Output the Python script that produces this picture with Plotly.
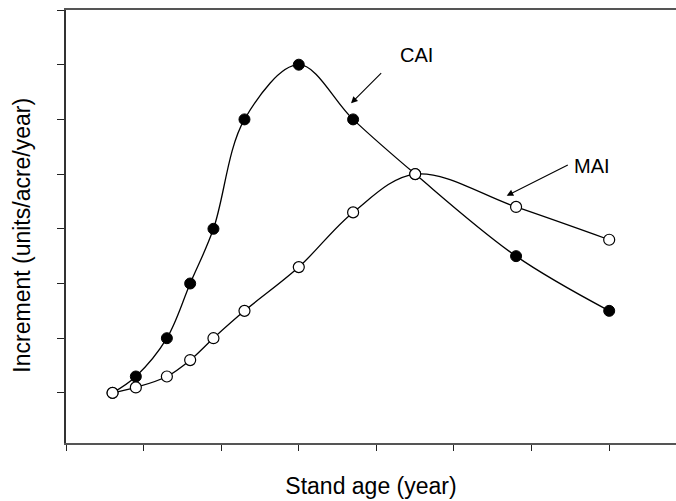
import plotly.graph_objects as go

# Data (stand age in tick units, increment in tick units)
age = [0.6, 0.9, 1.3, 1.6, 1.9, 2.3, 3.0, 3.7, 4.5, 5.8, 7.0]
cai = [1.0, 1.3, 2.0, 3.0, 4.0, 6.0, 7.0, 6.0, 5.0, 3.5, 2.5]
mai = [1.0, 1.1, 1.3, 1.6, 2.0, 2.5, 3.3, 4.3, 5.0, 4.4, 3.8]

x_ticks = [0, 1, 2, 3, 4, 5, 6, 7]
y_ticks = [1, 2, 3, 4, 5, 6, 7, 8]

FONT = "Arial, Liberation Sans, sans-serif"

fig = go.Figure()
fig.add_trace(go.Scatter(
    x=age, y=cai, mode="lines+markers", name="CAI",
    line=dict(color="black", width=1.3, shape="spline", smoothing=1.0),
    marker=dict(symbol="circle", size=11, color="black",
                line=dict(color="black", width=1)),
))
fig.add_trace(go.Scatter(
    x=age, y=mai, mode="lines+markers", name="MAI",
    line=dict(color="black", width=1.3, shape="spline", smoothing=1.0),
    marker=dict(symbol="circle", size=11, color="white",
                line=dict(color="black", width=1.2)),
))

# label annotations
fig.add_annotation(x=4.515, y=7.18, xref="x", yref="y", text="CAI",
                   showarrow=False, font=dict(size=20, color="black", family=FONT))
fig.add_annotation(x=6.778, y=5.148, xref="x", yref="y", text="MAI",
                   showarrow=False, font=dict(size=20, color="black", family=FONT))
# arrows
fig.add_annotation(x=3.673, y=6.294, ax=4.081, ay=6.872, xref="x", yref="y",
                   axref="x", ayref="y", text="", showarrow=True,
                   arrowhead=2, arrowsize=1.2, arrowwidth=1.1, arrowcolor="black")
fig.add_annotation(x=5.679, y=4.605, ax=6.486, ay=5.179, xref="x", yref="y",
                   axref="x", ayref="y", text="", showarrow=True,
                   arrowhead=2, arrowsize=1.2, arrowwidth=1.1, arrowcolor="black")

# y-axis title placed as annotation for exact position
fig.add_annotation(x=0, y=0.48, xref="paper", yref="paper", xshift=-43.5,
                   text="Increment (units/acre/year)", textangle=-90,
                   showarrow=False, xanchor="center", yanchor="middle",
                   font=dict(size=23, color="black", family=FONT))

fig.update_layout(
    width=676, height=501,
    margin=dict(l=66, r=0, t=10, b=58),
    paper_bgcolor="white", plot_bgcolor="white",
    showlegend=False,
    font=dict(family=FONT, color="black"),
    xaxis=dict(
        range=[0, 7.861], tickvals=x_ticks, showticklabels=False,
        ticks="outside", ticklen=6, tickwidth=1.2, tickcolor="#222",
        showline=True, linecolor="#555", linewidth=1.5, mirror=True,
        showgrid=False, zeroline=False,
        title=dict(text="Stand age (year)", font=dict(size=23, family=FONT), standoff=28),
    ),
    yaxis=dict(
        range=[0.084, 8.0], tickvals=y_ticks, showticklabels=False,
        ticks="outside", ticklen=7, tickwidth=1.2, tickcolor="#222",
        showline=True, linecolor="#333", linewidth=1.5,
        showgrid=False, zeroline=False,
    ),
)

fig.write_html(
    "out.html",
    config={"displayModeBar": False},
    post_script="document.body.style.margin='0px';document.body.style.overflow='hidden';",
)
